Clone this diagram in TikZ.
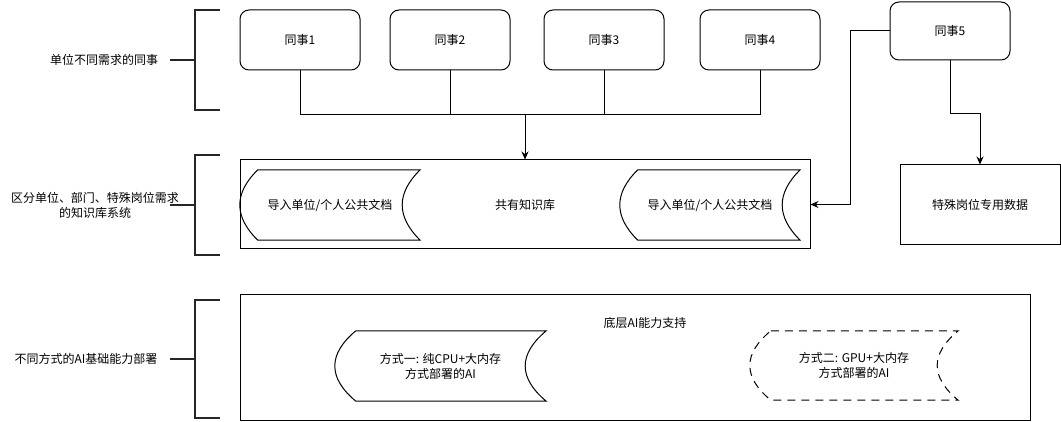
\documentclass[tikz,border=0pt]{standalone}
\usepackage{fontspec}
\setmainfont{Noto Sans CJK SC}
\usepackage{tikz}
\usetikzlibrary{
  arrows.meta,
  calc
}

\begin{document}
\begin{tikzpicture}[
  x=1pt, y=-1pt,
  font=\fontsize{12}{15}\selectfont,
  matebox/.style={
    rectangle, rounded corners=9pt, draw=black, line width=1pt,
    minimum width=120pt, minimum height=60pt,
    inner sep=0pt, align=center
  },
  framebox/.style={
    rectangle, draw=black, line width=1pt,
    inner sep=0pt, align=center
  },
  storebox/.style={
    rectangle, inner sep=0pt, align=center,
    minimum height=70pt
  },
  sidelabel/.style={
    align=center, inner sep=0pt
  },
  bracket/.style={
    line width=2pt, black!85
  },
  conn/.style={
    -{Stealth[length=8pt,width=7pt]}, line width=1pt, black
  },
  link/.style={
    line width=1pt, black
  },
  fullline/.style={solid},
  dashline/.style={dash pattern=on 8pt off 6pt}
]
  \useasboundingbox (0,0) rectangle (1061,422);

  % Side labels with brackets (left)
  \node[sidelabel] (lblmate) at (104,60) {单位不同需求的同事};
  \node[sidelabel] (lblkb) at (95,205) {区分单位、部门、特殊岗位需求\\的知识库系统};
  \node[sidelabel] (lblai) at (86,359) {不同方式的AI基础能力部署};
  \foreach \ytop/\ybot/\ymid in {10/110/60, 155/255/205, 300/418/359} {
    \draw[bracket] (220,\ytop) -- (195,\ytop) -- (195,\ybot) -- (220,\ybot);
    \draw[bracket] (170,\ymid) -- (195,\ymid);
  }

  % Colleagues (top)
  \node[matebox] (mate1) at (300,40) {同事1};
  \node[matebox] (mate2) at (450,40) {同事2};
  \node[matebox] (mate3) at (604,40) {同事3};
  \node[matebox] (mate4) at (760,40) {同事4};
  \node[matebox, minimum height=58pt] (mate5) at (950,31) {同事5};

  % Knowledge base (middle)
  \node[framebox, minimum width=570pt, minimum height=89pt] (kb)
    at (525,204.5) {共有知识库};
  \node[storebox, minimum width=180pt] (docA) at (330,205)
    {导入单位/个人公共文档};
  \node[storebox, minimum width=180pt] (docB) at (710,205)
    {导入单位/个人公共文档};
  \node[framebox, minimum width=160pt, minimum height=80pt] (special)
    at (980,205) {特殊岗位专用数据};

  % AI base (bottom)
  \node[framebox, minimum width=790pt, minimum height=125pt] (aibox)
    at (635,357.5) {};
  \node[sidelabel] (aibase) at (645,323) {底层AI能力支持};
  \node[storebox, minimum width=211pt] (aiA) at (440.5,366)
    {方式一: 纯CPU+大内存\\方式部署的AI};
  \node[storebox, minimum width=208pt, minimum height=69pt] (aiB)
    at (854,365.5) {方式二: GPU+大内存\\方式部署的AI};

  % Stored data outlines
  \foreach \n/\st/\s in {docA/fullline/18, docB/fullline/18,
                         aiA/fullline/21, aiB/dashline/21} {
    \draw[link, \st]
      ($(\n.north west)+(\s,0)$) -- (\n.north east)
      .. controls ($(\n.north east)!1/3!(\n.south east)+(-\s*4/3,0)$)
              and ($(\n.north east)!2/3!(\n.south east)+(-\s*4/3,0)$)
      .. (\n.south east)
      -- ($(\n.south west)+(\s,0)$)
      .. controls ($(\n.south west)!1/3!(\n.north west)+(-\s/3,0)$)
              and ($(\n.south west)!2/3!(\n.north west)+(-\s/3,0)$)
      .. ($(\n.north west)+(\s,0)$);
  }

  % Connections
  \coordinate (join) at (525,115);
  \draw[link] (mate1.south) |- (join);
  \draw[link] (mate2.south) |- (join);
  \draw[link] (mate3.south) |- (join);
  \draw[link] (mate4.south) |- (join);
  \draw[conn] (join) -- (kb.north);
  \draw[conn] (mate5.south) -- ++(0,53) -| (special.north);
  \draw[conn] (mate5.west) -- ++(-39,0) |- (kb.east);
\end{tikzpicture}
\end{document}
